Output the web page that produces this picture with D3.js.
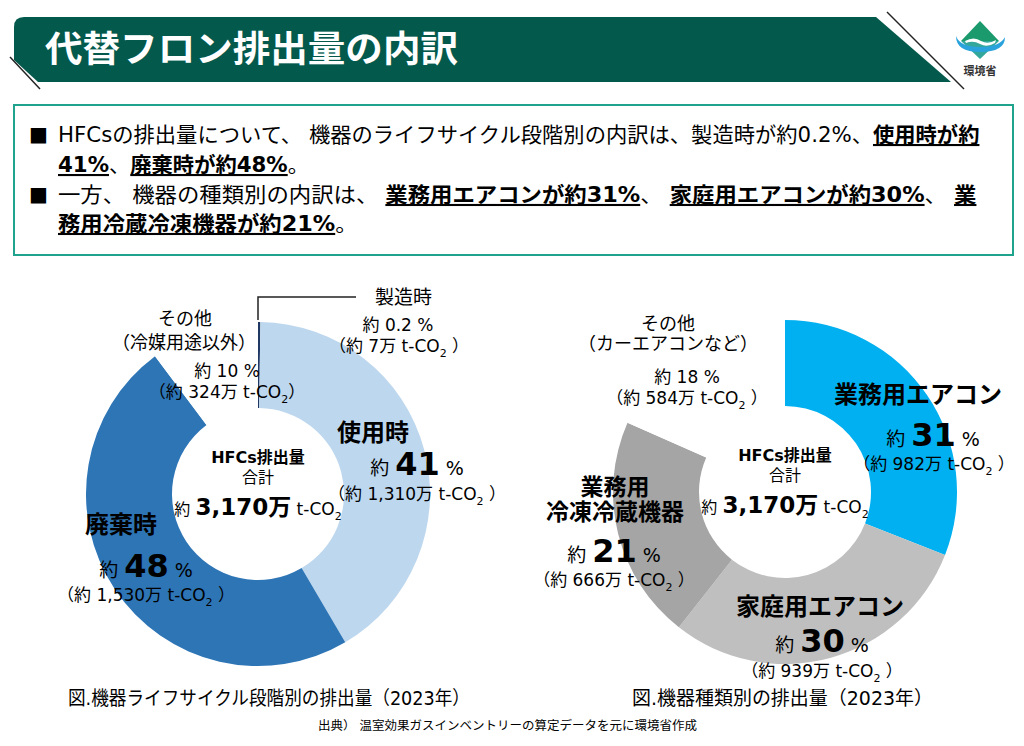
<!DOCTYPE html>
<html>
<head>
<meta charset="utf-8">
<script src="https://cdn.jsdelivr.net/npm/d3@7"></script>
<style>
  body { margin: 0; background: #fff; }
  svg { display: block; }
  text { font-family: "DejaVu Sans", "Noto Sans CJK JP", sans-serif; white-space: pre; }
</style>
</head>
<body>
<div id="chart"></div>
<script>
const title = "代替フロン排出量の内訳";

// ライフサイクル段階別 (万 t-CO2)
const lifeStages = ["製造時", "使用時", "廃棄時", "その他"];
const lifeValues = [7, 1310, 1530, 324];
const lifePct = ["0.2", "41", "48", "10"];
const lifeColors = ["#203864", "#bdd7ee", "#2e75b6", "#ffffff"];
const lifeLines = [["製造時"], ["使用時"], ["廃棄時"], ["その他", "（冷媒用途以外）"]];

// 機器種類別 (万 t-CO2)
const deviceTypes = ["業務用エアコン", "家庭用エアコン", "業務用冷凍冷蔵機器", "その他"];
const deviceValues = [982, 939, 666, 584];
const devicePct = ["31", "30", "21", "18"];
const deviceColors = ["#00b0f0", "#bfbfbf", "#a5a5a5", "#ffffff"];
const deviceLines = [["業務用エアコン"], ["家庭用エアコン"], ["業務用", "冷凍冷蔵機器"], ["その他", "（カーエアコンなど）"]];

const totalLabel = "3,170万";

const captions = ["図.機器ライフサイクル段階別の排出量（2023年）", "図.機器種類別の排出量（2023年）"];
const source = "出典） 温室効果ガスインベントリーの算定データを元に環境省作成";

const bulletLines = [
  [["HFCsの排出量について、 機器のライフサイクル段階別の内訳は、製造時が約0.2%、", 0], ["使用時が約", 1]],
  [["41%", 1], ["、", 0], ["廃棄時が約48%", 1], ["。", 0]],
  [["一方、 機器の種類別の内訳は、 ", 0], ["業務用エアコンが約31%", 1], ["、 ", 0], ["家庭用エアコンが約30%", 1], ["、 ", 0], ["業", 1]],
  [["務用冷蔵冷凍機器が約21%", 1], ["。", 0]]
];

const W = 1024, H = 746;
const svg = d3.select("#chart").append("svg").attr("width", W).attr("height", H);

// header bar
svg.append("path")
  .attr("d", "M14,27 Q14,17 24,17 L876,17 L951,82 L38,82 L14,60 Z")
  .attr("fill", "#04594d");
svg.append("line").attr("x1", 10).attr("y1", 57).attr("x2", 40).attr("y2", 89)
  .attr("stroke", "#222").attr("stroke-width", 1.5);
svg.append("line").attr("x1", 887).attr("y1", 12).attr("x2", 964).attr("y2", 89)
  .attr("stroke", "#222").attr("stroke-width", 1.5);
svg.append("text")
  .attr("x", 45).attr("y", 62)
  .attr("fill", "#fff")
  .attr("font-family", "Noto Sans CJK JP")
  .attr("font-weight", 700)
  .attr("font-size", 36)
  .attr("textLength", 413)
  .attr("lengthAdjust", "spacingAndGlyphs")
  .text(title);

// logo
const logo = svg.append("g");
logo.append("path").attr("d", "M980,21 L999,41 L961,41 Z").attr("fill", "#1b9a6e");
logo.append("path").attr("d", "M961,41 L999,41 L980,59 Z").attr("fill", "#33a79b");
logo.append("path").attr("d", "M965,41 Q974,36 981,41 Q988,45 996,40 L995,43 Q987,48 980,44 Q973,40 966,43 Z")
  .attr("fill", "#fff");
logo.append("path").attr("d", "M956,36 Q956,52 980,52 Q1005,52 1005,37 Q1000,47 980,47 Q960,47 956,36 Z")
  .attr("fill", "#2aa3dc");
logo.append("text").attr("x", 980).attr("y", 75).attr("text-anchor", "middle")
  .attr("font-family", "Noto Sans CJK JP").attr("font-weight", 700).attr("font-size", 11)
  .attr("fill", "#333").text("環境省");

// summary box
svg.append("rect")
  .attr("x", 14).attr("y", 105).attr("width", 999).attr("height", 150)
  .attr("fill", "#fff").attr("stroke", "#20a38c").attr("stroke-width", 2);

const box = svg.append("g").attr("font-family", "Noto Sans CJK JP");
const lineY = [142, 172, 202, 231];
const rows = bulletLines.map((segs) => {
  const t = box.append("text").attr("font-size", 21).attr("fill", "#000");
  segs.forEach(([s, b]) => {
    const sp = t.append("tspan").text(s).attr("font-weight", b ? 700 : 400);
    if (b) sp.style("text-decoration", "underline");
  });
  return t;
});
// fit the long lines to the box width, reuse the factor for their continuation
const k1 = 922 / rows[0].node().getComputedTextLength();
const k3 = 919 / rows[2].node().getComputedTextLength();
const scales = [k1, k1, k3, k3];
rows.forEach((t, i) => t.attr("transform", `translate(58,${lineY[i]}) scale(${scales[i]},1)`));
[142, 202].forEach((y) => {
  box.append("text").attr("x", 29).attr("y", y - 1).attr("font-size", 20).text("■");
});

// donut drawing
const rOuter = 172, rInner = 86;
const arc = d3.arc().innerRadius(rInner).outerRadius(rOuter);
const pie = d3.pie().sort(null).value((d) => d);

function rich(g, x, y, parts, anchor) {
  const t = g.append("text").attr("x", x).attr("y", y)
    .attr("text-anchor", anchor || "middle").attr("fill", "#000");
  let down = false;
  parts.forEach((p) => {
    const s = t.append("tspan").text(p.t).attr("font-size", p.s)
      .attr("font-weight", p.b ? 700 : 400);
    if (p.sub && !down) { s.attr("dy", 5); down = true; }
    else if (!p.sub && down) { s.attr("dy", -5); down = false; }
  });
  return t;
}

function amountParts(v, space) {
  return [
    { t: "（約 " + d3.format(",")(v) + "万 t-CO", s: 17 },
    { t: "2", s: 11, sub: true },
    { t: space ? " ）" : "）", s: 17 }
  ];
}

function pctParts(p, big) {
  if (!big) return [{ t: "約 " + p + " %", s: 17 }];
  return [{ t: "約 ", s: 19 }, { t: p, s: 32, b: true }, { t: " %", s: 19 }];
}

function donut(cx, cy, values, colors, lines, pcts, layout) {
  const g = svg.append("g");
  g.append("g").attr("transform", `translate(${cx},${cy})`)
    .selectAll("path")
    .data(pie(values))
    .join("path")
    .attr("d", arc)
    .attr("fill", (d, i) => colors[i]);

  // total in the hole
  rich(g, cx, cy - 31, [{ t: "HFCs排出量", s: 16, b: true }]);
  rich(g, cx, cy - 11, [{ t: "合計", s: 16 }]);
  rich(g, cx, cy + 21, [
    { t: "約 ", s: 16 }, { t: totalLabel, s: 23, b: true }, { t: " t-CO", s: 17 },
    { t: "2", s: 11, sub: true }
  ]);

  layout.forEach((L, i) => {
    lines[i].forEach((ln, j) => {
      rich(g, L.nx + (L.ndx ? L.ndx[j] : 0), L.ny + j * L.lh, [{ t: ln, s: L.ns, b: L.nb }], L.na);
    });
    rich(g, L.px, L.py, pctParts(pcts[i], L.big));
    rich(g, L.ax, L.ay, amountParts(values[i], L.sp));
  });
  return g;
}

// left: lifecycle
const leftCx = 258, leftCy = 494;
svg.append("path")
  .attr("d", `M${leftCx},${leftCy - rOuter - 2} L${leftCx},297 L356,297`)
  .attr("fill", "none").attr("stroke", "#222").attr("stroke-width", 1.5);
donut(leftCx, leftCy, lifeValues, lifeColors, lifeLines, lifePct, [
  { nx: 375, ny: 304, ns: 19, nb: false, na: "start", lh: 0, px: 398, py: 331, ax: 399, ay: 352, big: false, sp: true },
  { nx: 373, ny: 441, ns: 24, nb: true, lh: 0, px: 417, py: 475, ax: 417, ay: 500, big: true, sp: true },
  { nx: 121, ny: 533, ns: 24, nb: true, lh: 0, px: 146, py: 577, ax: 146, ay: 601, big: true, sp: true },
  { nx: 185, ny: 325, ns: 18, nb: false, lh: 24, ndx: [0, -1], px: 227, py: 377, ax: 227, ay: 398, big: false, sp: false }
]);

// right: device type
donut(785, 492, deviceValues, deviceColors, deviceLines, devicePct, [
  { nx: 918, ny: 403, ns: 24, nb: true, lh: 0, px: 933, py: 446, ax: 934, ay: 470, big: true, sp: true },
  { nx: 820, ny: 615, ns: 24, nb: true, lh: 0, px: 822, py: 652, ax: 822, ay: 677, big: true, sp: true },
  { nx: 615, ny: 495, ns: 23, nb: true, lh: 25, px: 614, py: 562, ax: 614, ay: 586, big: true, sp: true },
  { nx: 668, ny: 330, ns: 18, nb: false, lh: 20, px: 687, py: 383, ax: 687, ay: 404, big: false, sp: true }
]);

// captions and source
[[68, 402], [632, 301]].forEach(([x, w], i) => {
  svg.append("text").attr("x", x).attr("y", 705)
    .attr("font-family", "Noto Sans CJK JP").attr("font-size", 19)
    .attr("textLength", w).attr("lengthAdjust", "spacingAndGlyphs")
    .text(captions[i]);
});
svg.append("text").attr("x", 318).attr("y", 730)
  .attr("font-family", "Noto Sans CJK JP").attr("font-size", 12)
  .attr("textLength", 379).attr("lengthAdjust", "spacingAndGlyphs")
  .text(source);
</script>
</body>
</html>
